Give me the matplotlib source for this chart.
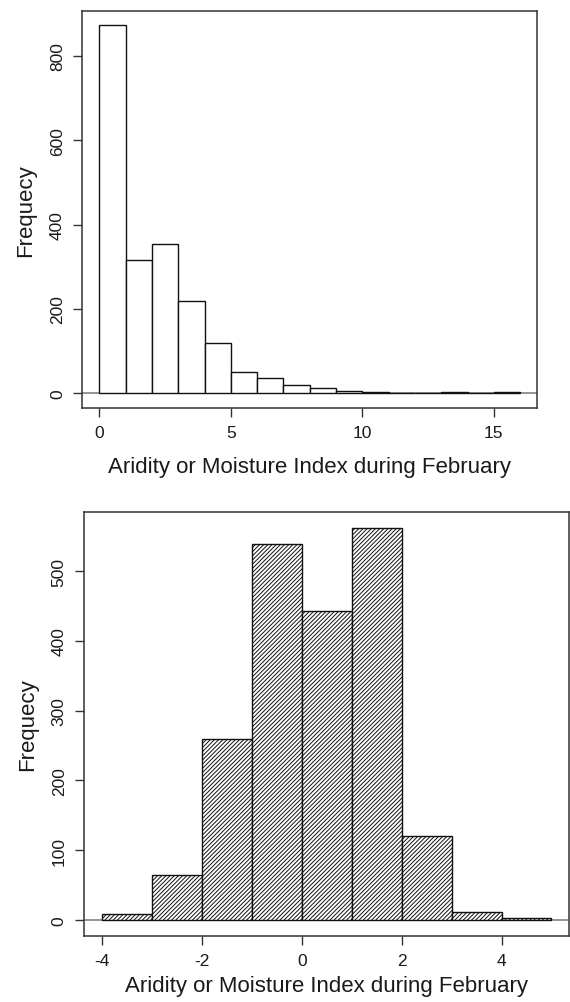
import matplotlib
matplotlib.use("Agg")
import matplotlib.pyplot as plt

plt.rcParams['font.family'] = ['Liberation Sans', 'DejaVu Sans']
plt.rcParams['hatch.linewidth'] = 0.7
plt.rcParams['axes.unicode_minus'] = False

# Top histogram: raw index values (bins of width 1 starting at 0)
top_bin_starts = list(range(0, 16))
top_counts = [872, 316, 354, 218, 120, 51, 36, 19, 13, 5, 2, 1, 1, 2, 1, 2]
top_xticks = [0, 5, 10, 15]
top_yticks = [0, 200, 400, 600, 800]

# Bottom histogram: transformed index (bins of width 1 from -4 to 5)
bot_bin_starts = [-4, -3, -2, -1, 0, 1, 2, 3, 4]
bot_counts = [9, 65, 260, 539, 443, 562, 121, 12, 3]
bot_xticks = [-4, -2, 0, 2, 4]
bot_yticks = [0, 100, 200, 300, 400, 500]

xlabel = "Aridity or Moisture Index during February"
ylabel = "Frequecy"

box_col = '#333333'
text_col = '#1a1a1a'

fig = plt.figure(figsize=(5.70, 10.03), dpi=100)
ax1 = fig.add_axes([0.1447, 0.5922, 0.7974, 0.3961])
ax2 = fig.add_axes([0.1474, 0.0661, 0.8516, 0.4224])


def style_axes(ax, xticks, yticks, xlabelpad):
    for s in ax.spines.values():
        s.set_color(box_col)
        s.set_linewidth(1.1)
    ax.axhline(0, color='#777777', lw=1.1, zorder=1)
    ax.set_xticks(xticks)
    ax.set_yticks(yticks)
    ax.set_yticklabels([str(v) for v in yticks], rotation=90, va='center')
    ax.tick_params(direction='out', length=6.5, width=1.0, color=box_col,
                   labelsize=12.5, labelcolor=text_col, pad=6)
    ax.set_xlabel(xlabel, fontsize=16, color=text_col, labelpad=xlabelpad)
    ax.set_ylabel(ylabel, fontsize=16, color=text_col, labelpad=10)


ax1.bar(top_bin_starts, top_counts, width=1, align='edge', facecolor='white',
        edgecolor='#111111', linewidth=1.0, zorder=2)
ax1.set_xlim(-0.64, 16.64)
ax1.set_ylim(-0.04 * max(top_counts), 1.04 * max(top_counts))
style_axes(ax1, top_xticks, top_yticks, 11)

ax2.bar(bot_bin_starts, bot_counts, width=1, align='edge', facecolor='white',
        edgecolor='#111111', linewidth=1.0, hatch='////////', zorder=2)
ax2.set_xlim(-4.36, 5.36)
ax2.set_ylim(-0.04 * max(bot_counts), 1.04 * max(bot_counts))
style_axes(ax2, bot_xticks, bot_yticks, 5)

fig.savefig("out.png", dpi=100)
